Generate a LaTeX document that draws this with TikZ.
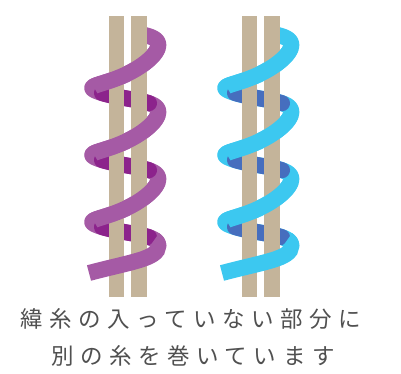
\documentclass[tikz,border=0pt]{standalone}
\usepackage{fontspec}
\newfontfamily\jpfont{Noto Sans CJK JP}
\definecolor{post}{HTML}{C4B49A}
\definecolor{plum}{HTML}{A55AA5}
\definecolor{plumdark}{HTML}{8C238C}
\definecolor{sky}{HTML}{3CC8F0}
\definecolor{skydark}{HTML}{466EBE}
\definecolor{caption}{HTML}{505050}
\tikzset{
    yarn/.style={line width=16pt, draw=#1},
    warp/.style={fill=post},
    label/.style={text=caption, inner sep=0pt,
        font=\jpfont\fontsize{22.5}{26}\selectfont\addfontfeature{LetterSpace=29}},
    declare function={hx(\t)=125.3+33*cos(\t);
        hy(\t)=51.35+\t/360*67+5*sin(\t)-4.75*cos(\t)-1.6*cos(2*\t);}
}
\begin{document}
\begin{tikzpicture}[x=1pt, y=-1pt]
    \useasboundingbox (0,0) rectangle (401,374);
    \def\coil#1#2#3{% shift, front colour, back colour
        \begin{scope}[xshift=#1]
            % whole yarn, gives the curls at the sides
            \draw[yarn=#2] plot[domain=-66:1080, samples=400, smooth] ({hx(\x)},{hy(\x)});
            % parts behind the warp
            \foreach \k [evaluate=\k as \lo using 360*\k+225,
                         evaluate=\k as \hi using 360*\k+316] in {0,1,2}
                \draw[yarn=#3, line cap=round] plot[domain=\lo:\hi, samples=60, smooth] ({hx(\x)},{hy(\x)});
            % two warp threads
            \fill[warp] (109,16) rectangle (124.3,297);
            \fill[warp] (131,16) rectangle (146.7,297);
            % parts in front of the warp
            \foreach \k [evaluate=\k as \lo using 360*\k+10,
                         evaluate=\k as \hi using 360*\k+165] in {0,1,2}
                \draw[yarn=#2] plot[domain=\lo:\hi, samples=80, smooth] ({hx(\x)},{hy(\x)});
            \draw[yarn=#2] plot[domain=1052:1080, samples=10, smooth] ({hx(\x)},{hy(\x)})
                .. controls (158.3,259) and (130,262) .. (89,273);
        \end{scope}}
    \coil{0}{plum}{plumdark}
    \coil{133}{sky}{skydark}
    \node[label] (first) at (190.5,319) {緯糸の入っていない部分に};
    \node[label] (second) at (193,356) {別の糸を巻いています};
\end{tikzpicture}
\end{document}
